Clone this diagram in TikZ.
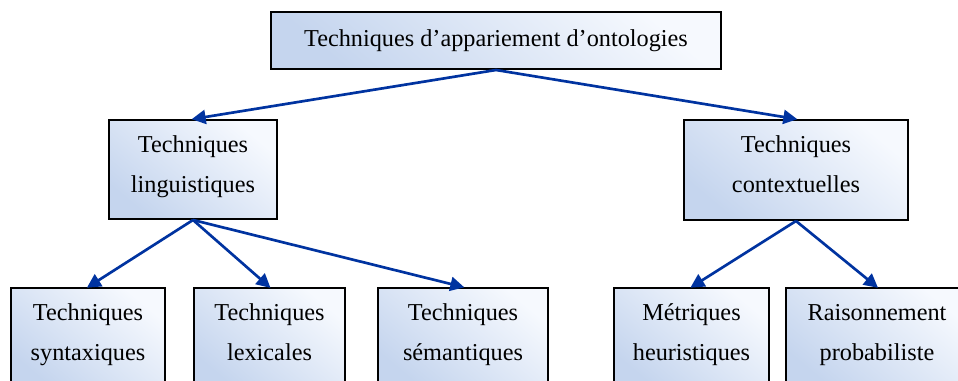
\documentclass[tikz,border=0pt]{standalone}
\usepackage{fontspec}
\setmainfont{Liberation Serif}
\usetikzlibrary{arrows.meta}
\definecolor{boxlo}{RGB}{197,213,238}
\definecolor{boxhi}{RGB}{246,249,254}
\definecolor{linkblue}{RGB}{0,51,160}
% invisible rules giving every line the same height and depth
\newcommand\linestrut{\rule[-9.5pt]{0pt}{23.5pt}}
\newcommand\titlestrut{\rule[-7.5pt]{0pt}{23.5pt}}
\tikzset{
  box/.style={draw=black, line width=1.5pt, rectangle, inner sep=0pt,
    top color=boxhi, bottom color=boxlo, shading angle=-40,
    align=center, font=\fontsize{18.2}{30}\selectfont},
  link/.style={draw=linkblue, line width=2pt,
    -{Triangle[length=10.5pt,width=10.5pt]}, shorten >=-1pt}
}
\begin{document}
\begin{tikzpicture}[x=0.75pt,y=-0.75pt]
\clip (0,0) rectangle (958,381);
\useasboundingbox (0,0) rectangle (958,381);

% root
\node[box, minimum width=450*0.75pt, minimum height=57*0.75pt] (root) at (496,40.5)
  {\titlestrut Techniques d’appariement d’ontologies};

% second level
\node[box, minimum width=168*0.75pt, minimum height=99*0.75pt] (ling) at (193,169.5)
  {\linestrut Techniques\\\linestrut linguistiques};
\node[box, minimum width=224*0.75pt, minimum height=100*0.75pt] (ctx) at (796,170)
  {\linestrut Techniques\\\linestrut contextuelles};

% leaves
\node[box, minimum width=154*0.75pt, minimum height=99*0.75pt] (syn) at (88,337.5)
  {\linestrut Techniques\\\linestrut syntaxiques};
\node[box, minimum width=151*0.75pt, minimum height=99*0.75pt] (lex) at (269.5,337.5)
  {\linestrut Techniques\\\linestrut lexicales};
\node[box, minimum width=170*0.75pt, minimum height=99*0.75pt] (sem) at (463,337.5)
  {\linestrut Techniques\\\linestrut sémantiques};
\node[box, minimum width=155*0.75pt, minimum height=99*0.75pt] (met) at (691.5,337.5)
  {\linestrut Métriques\\\linestrut heuristiques};
\node[box, minimum width=182*0.75pt, minimum height=99*0.75pt] (rai) at (877,337.5)
  {\linestrut Raisonnement\\\linestrut probabiliste};

% connectors
\draw[link] (root.south) -- (ling.north);
\draw[link] (root.south) -- (ctx.north);
\draw[link] (ling.south) -- (syn.north);
\draw[link] (ling.south) -- (lex.north);
\draw[link] (ling.south) -- (sem.north);
\draw[link] (ctx.south) -- (met.north);
\draw[link] (ctx.south) -- (rai.north);
\end{tikzpicture}
\end{document}
